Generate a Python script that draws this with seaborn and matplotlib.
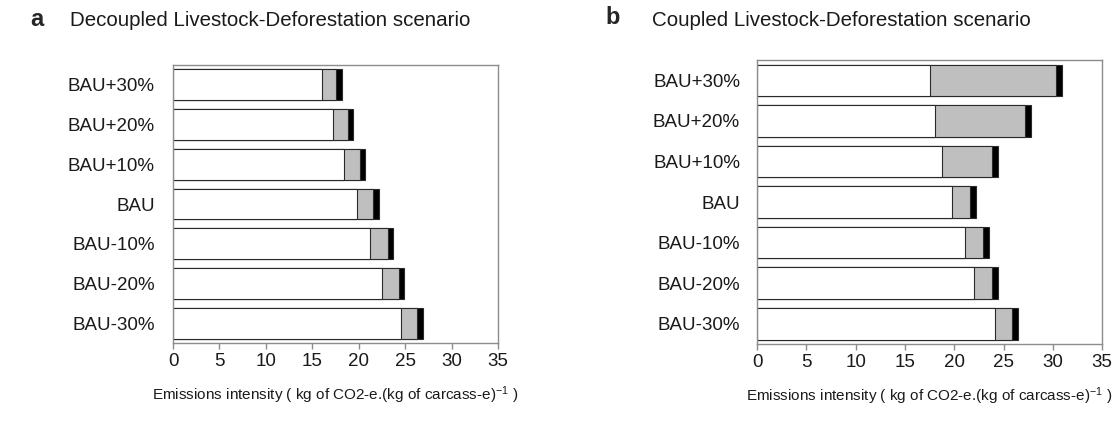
import numpy as np
import pandas as pd
import matplotlib
matplotlib.use("Agg")
import matplotlib.pyplot as plt
import seaborn as sns

sns.set_theme(style="white")
plt.rcParams['font.family'] = ['Liberation Sans', 'DejaVu Sans']
plt.rcParams['mathtext.fontset'] = 'custom'
plt.rcParams['mathtext.rm'] = 'Liberation Sans'
plt.rcParams['mathtext.it'] = 'Liberation Sans'
plt.rcParams['mathtext.sf'] = 'Liberation Sans'

categories = ["BAU+30%", "BAU+20%", "BAU+10%", "BAU", "BAU-10%", "BAU-20%", "BAU-30%"]

# Decoupled scenario (panel a)
a_white = [16.0, 17.2, 18.4, 19.8, 21.25, 22.5, 24.5]
a_gray = [1.55, 1.6, 1.75, 1.75, 1.85, 1.8, 1.8]
a_black = [0.6, 0.6, 0.57, 0.6, 0.55, 0.58, 0.6]

# Coupled scenario (panel b)
b_white = [17.5, 18.1, 18.8, 19.75, 21.05, 22.05, 24.1]
b_gray = [12.8, 9.05, 5.05, 1.85, 1.85, 1.8, 1.8]
b_black = [0.6, 0.6, 0.57, 0.57, 0.58, 0.6, 0.58]

xticks = [0, 5, 10, 15, 20, 25, 30, 35]
titles = ["Decoupled Livestock-Deforestation scenario", "Coupled Livestock-Deforestation scenario"]
letters = ["a", "b"]
xlabel = r"Emissions intensity ( kg of CO2-e.(kg of carcass-e)$^{\mathsf{-1}}$ )"

fig = plt.figure(figsize=(11.15, 4.25), dpi=100)
ax_a = fig.add_axes([0.1552, 0.193, 0.2915, 0.654])
ax_b = fig.add_axes([0.679, 0.1906, 0.3094, 0.668])

spine_col = "#8c8c8c"
edge_col = "#2a2a2a"
text_col = "#1a1a1a"

def draw(ax, white, gray, black, ypad):
    df = pd.DataFrame({"cat": categories, "white": white, "gray": gray, "black": black})
    df["c2"] = df["white"] + df["gray"]
    df["c3"] = df["c2"] + df["black"]
    for col, color in [("c3", "#000000"), ("c2", "#bfbfbf"), ("white", "#ffffff")]:
        sns.barplot(data=df, x=col, y="cat", order=categories, orient="h", color=color,
                    width=0.78, edgecolor=edge_col, linewidth=0.8, saturation=1, ax=ax)
    ax.set_xlim(0, 35)
    ax.set_xticks(xticks)
    ax.set_ylim(len(categories) - 0.5, -0.5)
    ax.set_yticks(range(len(categories)))
    ax.set_yticklabels(categories)
    ax.set_yticks(np.arange(-0.5, len(categories), 1.0), minor=True)
    ax.tick_params(axis="y", which="major", length=0, pad=ypad, labelsize=13.5, labelcolor=text_col)
    ax.tick_params(axis="y", which="minor", length=6, width=1, color=spine_col, direction="inout")
    ax.tick_params(axis="x", which="major", length=4, width=1, color=spine_col, direction="out",
                   labelsize=13.5, pad=3.5, labelcolor=text_col, bottom=True)
    for s in ax.spines.values():
        s.set_color(spine_col)
        s.set_linewidth(1.0)
        s.set_visible(True)
    ax.set_ylabel("")
    ax.set_xlabel(xlabel, fontsize=11, labelpad=10, color=text_col)

draw(ax_a, a_white, a_gray, a_black, 13)
draw(ax_b, b_white, b_gray, b_black, 12.3)

fig.text(37 / 1115, 1 - 20 / 425, letters[0], fontsize=17, fontweight="bold", ha="center", va="center")
fig.text(70 / 1115, 1 - 20 / 425, titles[0], fontsize=14.8, ha="left", va="center", color=text_col)
fig.text(613 / 1115, 1 - 18 / 425, letters[1], fontsize=17, fontweight="bold", ha="center", va="center")
fig.text(652 / 1115, 1 - 20 / 425, titles[1], fontsize=14.8, ha="left", va="center", color=text_col)

fig.savefig("out.png", dpi=100, facecolor="white")
